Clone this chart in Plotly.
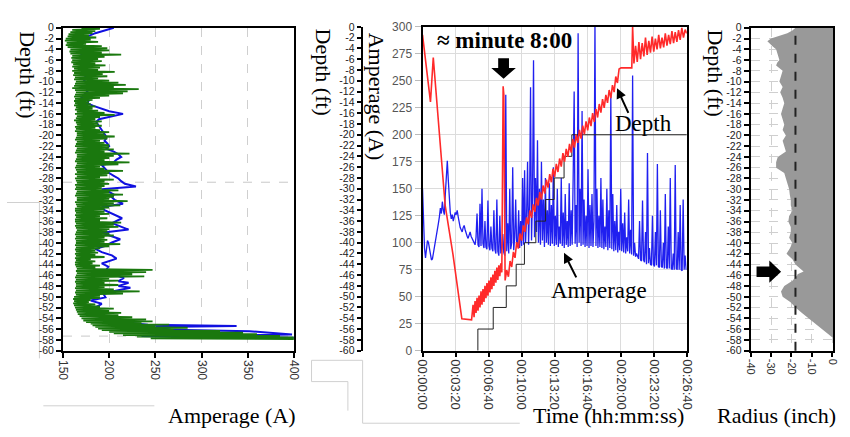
import plotly.graph_objects as go

W, H = 850, 437

# ---------------- Panel 1 : amperage log along depth ----------------
green_step_ft = 0.2
green_amp = [170, 190, 160, 185, 158, 182, 156, 178, 155, 186,
             153, 180, 152, 188, 154, 175, 153, 192, 155, 198,
             158, 200, 157, 192, 158, 213, 160, 195, 159, 188,
             160, 192, 159, 185, 161, 196, 160, 190, 162, 188,
             160, 206, 162, 193, 161, 198, 163, 188, 162, 200,
             164, 210, 163, 218, 162, 205, 160, 232, 163, 220,
             164, 215, 163, 200, 162, 190, 163, 182, 162, 178,
             163, 180, 162, 185, 164, 182, 163, 188, 165, 195,
             163, 206, 165, 190, 164, 185, 162, 192, 164, 188,
             165, 192, 163, 185, 164, 190, 163, 200, 165, 195,
             165, 206, 164, 198, 163, 190, 165, 195, 164, 200,
             163, 200, 165, 205, 164, 195, 163, 222, 165, 205,
             165, 200, 164, 195, 163, 222, 165, 210, 164, 190,
             163, 195, 164, 215, 165, 200, 163, 198, 165, 190,
             163, 205, 164, 195, 165, 200, 163, 195, 164, 192,
             163, 210, 165, 200, 164, 215, 163, 205, 165, 200,
             165, 220, 163, 205, 164, 212, 165, 200, 163, 195,
             163, 195, 164, 200, 163, 190, 164, 198, 163, 190,
             163, 213, 164, 205, 163, 210, 164, 200, 165, 198,
             164, 200, 163, 205, 164, 195, 163, 198, 164, 195,
             164, 212, 163, 200, 164, 190, 163, 185, 164, 188,
             163, 185, 164, 195, 163, 180, 164, 185, 163, 182,
             163, 190, 164, 185, 165, 247, 164, 240, 165, 225,
             164, 238, 163, 200, 164, 210, 163, 195, 164, 210,
             164, 195, 163, 205, 164, 233, 163, 215, 164, 190,
             162, 190, 161, 180, 162, 178, 161, 185, 162, 190,
             163, 205, 164, 200, 165, 213, 166, 210, 168, 225,
             170, 240]
green_tail_depth = [-54.4, -54.55, -54.7, -54.85, -55.0, -55.15, -55.3, -55.45, -55.6, -55.75,
                    -55.9, -56.05, -56.2, -56.35, -56.5, -56.65, -56.8, -56.95, -57.1, -57.25,
                    -57.4, -57.55, -57.7, -57.85, -58.0]
green_tail_amp = [172, 247, 175, 235, 180, 265, 182, 250, 185, 285,
                  188, 270, 192, 320, 200, 345, 205, 360, 215, 385,
                  230, 400, 245, 400, 400]

blue_log_depth = [0, -0.5, -1, -1.5, -2, -2.5, -3, -3.5, -4, -4.5, -5, -5.5, -6, -6.5, -7,
                  -7.5, -8, -8.5, -9, -9.5, -10, -10.5, -11, -11.5, -12, -12.5, -13, -13.5,
                  -14, -14.5, -15, -15.5, -16, -16.5, -17, -17.5, -18, -18.5, -19, -19.5, -20,
                  -20.5, -21, -21.5, -22, -22.5, -23, -23.5, -24, -24.5, -25, -25.5, -26, -26.5,
                  -27, -27.5, -28, -28.5, -29, -29.5, -30, -30.5, -31, -31.5, -32,
                  -32.7, -33.3, -33.9, -34.8, -35.4, -36.3, -36.9, -37.5, -38.1, -38.7,
                  -39.3, -39.9, -40.5, -41.1, -41.7, -42.3, -42.9, -43.8, -44.4, -45.3,
                  -45.9, -46.5, -47.1, -47.4, -48.0, -48.3, -48.9, -49.5, -50.1, -50.7,
                  -51.3, -52.2, -53.1, -54.0, -54.6, -55.2, -55.4, -55.6, -56.1, -56.4,
                  -56.7, -57.0, -57.3, -57.6]
blue_log_amp = [205, 195, 185, 178, 172, 170, 168, 172, 175, 172, 170, 174, 176, 172, 170,
                173, 176, 178, 175, 172, 174, 177, 180, 178, 175, 172, 170, 178,
                176, 183, 192, 200, 215, 200, 189, 186, 188, 190, 192, 194, 196,
                197, 195, 198, 200, 197, 205, 210, 213, 208, 205, 192, 195, 198,
                200, 205, 210, 213, 217, 229, 192, 200, 205, 203, 206,
                215, 192, 195, 207, 214, 203, 213, 221, 192, 203,
                212, 203, 196, 185, 192, 203, 208, 192, 199, 196,
                206, 216, 210, 221, 210, 223, 206, 194, 196, 180,
                192, 183, 178, 196, 207, 242, 338, 250, 267, 352,
                373, 398, 235, 400]

log_cursor_depths = [-28.7, -57.3]
amp_ticks = [150, 200, 250, 300, 350, 400]

# ---------------- Panel 2 : time series ----------------
sample_period_s = 6
amp_series = [150, 118, 95, 86, 92, 102, 100, 94, 88, 84,
              85, 90, 98, 103, 106, 110, 118, 124, 132, 127,
              138, 130, 126, 145, 168, 176, 158, 140, 128, 122,
              126, 120, 124, 128, 126, 130, 124, 118, 114, 112,
              110, 114, 116, 112, 108, 106, 104, 108, 110, 106,
              104, 102, 100, 98,
              105, 127, 98, 96, 136, 97, 150, 99, 95, 120,
              96, 94, 139, 97, 93, 115, 95, 92, 130, 94,
              90, 140, 92, 88, 125, 90, 95, 108, 91, 88,
              237, 92, 118, 90, 150, 94, 100, 170, 93, 105,
              140, 96, 98, 130, 95, 120, 97, 160, 98, 167,
              100, 125, 175, 98, 135, 244, 102, 145, 269, 105,
              160, 110, 195, 100, 150, 98, 175, 102, 140, 96,
              160, 100, 130, 98, 155, 97, 135, 99, 170, 97,
              125, 98, 150, 96, 115, 99, 160, 97, 128, 95,
              145, 98, 120, 96, 155, 97, 130, 98, 160, 240,
              99, 135, 96, 294, 100, 150, 97, 222, 98, 140,
              96, 125, 97, 168, 95, 135, 97, 145, 96, 120,
              305, 97, 150, 95, 125, 96, 160, 95, 140, 94,
              115, 96, 150, 93, 130, 95, 237, 94, 145, 92,
              120, 93, 135, 91, 110, 93, 150, 92, 118, 91,
              128, 90, 105, 92, 140, 90, 112, 89, 255, 88,
              100, 87, 90, 86, 85, 120, 84, 83, 139, 84,
              82, 110, 80, 183, 81, 95, 80, 79, 125, 80,
              78, 110, 79, 173, 78, 77, 130, 78, 77, 100,
              76, 145, 77, 76, 115, 76, 160, 76, 75, 90,
              75, 172, 76, 75, 110, 75, 135, 75, 74, 140,
              75, 88, 75]

depth_t = ([0, 48, 65, 137, 184, 238, 297]
           + list(range(306, 481, 6))
           + [488, 492, 500]
           + list(range(510, 1191, 10))
           + [1202, 1267, 1272]
           + list(range(1280, 1601, 10)))
depth_ft = ([-1.5, -13.9, -5.7, -33.1, -42.1, -54.1, -54.3]
            + [-51.5, -53.8, -50.8, -53.0, -50.2, -52.6, -49.8, -52.0, -49.0, -51.5,
               -48.6, -51.0, -48.0, -50.3, -47.5, -49.8, -47.0, -49.2, -46.4, -48.6,
               -45.9, -48.0, -45.2, -47.4, -44.6, -46.9, -44.2, -46.2, -43.8, -45.5]
            + [-11.0, -12.5, -47.0]
            + [-45.1, -46.3, -43.4, -44.5, -41.7, -42.8, -39.9, -41.1, -38.3, -39.6,
               -36.8, -38.0, -35.3, -36.6, -34.0, -35.4, -32.9, -34.3, -31.7, -33.1,
               -30.6, -32.0, -29.4, -30.9, -28.3, -29.8, -27.3, -28.8, -26.3, -27.8,
               -25.4, -26.9, -24.4, -25.9, -23.4, -25.0, -22.6, -24.1, -21.7, -23.3,
               -20.8, -22.4, -20.0, -21.5, -19.1, -20.7, -18.3, -19.9, -17.5, -19.2,
               -16.8, -18.4, -16.0, -17.6, -15.2, -16.8, -14.3, -15.9, -13.4, -15.0,
               -12.6, -14.1, -11.7, -13.2, -10.8, -12.1, -9.2, -10.4, -7.8]
            + [-7.6, -7.6, 0.0]
            + [-6.8, -3.5, -6.5, -2.8, -6.0, -3.0, -5.5, -2.0, -5.2, -2.6,
               -4.8, -1.8, -4.6, -2.2, -4.2, -1.5, -4.0, -2.0, -3.8, -1.2,
               -3.5, -1.5, -3.2, -0.8, -3.0, -1.0, -2.8, -0.6, -2.4, -0.2,
               -2.0, -0.5, -1.2])

step_t = [335, 428, 507, 567, 617, 686, 745, 797, 857, 904]
step_amp = [20, 40, 60, 80, 100, 120, 140, 160, 180, 200]

time_ticks = [0, 200, 400, 600, 800, 1000, 1200, 1400, 1600]
time_labels = ["00:00:00", "00:03:20", "00:06:40", "00:10:00", "00:13:20",
               "00:16:40", "00:20:00", "00:23:20", "00:26:40"]

# ---------------- Panel 3 : radius profile ----------------
profile_depth = [0, -0.5, -1, -1.5, -2, -2.5, -3, -3.5, -4, -5, -6, -6.5, -7, -8, -9, -10,
                 -11, -12, -13, -14, -15, -16, -17, -18, -19, -20, -21, -22, -23, -24,
                 -25, -26, -27, -28, -29, -30, -31, -32, -33, -34, -35, -36, -37, -38,
                 -39, -40, -41, -42, -43, -44, -44.8, -45.3, -45.8, -46, -47, -48, -49,
                 -50, -51, -52, -53, -54, -55, -56, -57, -57.5]
profile_radius = [-18, -19.5, -22, -26, -30, -31.8, -30.6, -29, -27.5, -26.7, -25.9, -27,
                  -27.5, -24.3, -25.1, -25.9, -24.3, -25.5, -24.3, -23.5, -24.3, -25.1,
                  -24.3, -23.5, -24.3, -22.7, -24.3, -23.5, -22.7, -26.7, -27.5, -27.5,
                  -23.5, -22.7, -21.9, -21.1, -20.8, -20.3, -20.3, -19.5, -21.1, -21.5,
                  -20.3, -20.3, -21.1, -19.5, -20.8, -22.4, -19.5, -18.0, -15.6, -14.0,
                  -17.0, -17.1, -19.5, -23.5, -25.1, -24.3, -20.4, -18.0, -14.8, -11.6,
                  -8.4, -5.2, -2.0, 0]
radius_ref = -18
radius_max = 0.5
radius_ticks = [-40, -30, -20, -10, 0]

depth_ticks = list(range(0, -61, -2))
depth_labels = [str(v) for v in depth_ticks]


def px(x):
    return x / W


def py(y):
    return 1 - y / H


def path(points, close=True):
    s = "M " + " L ".join(f"{px(x):.5f},{py(y):.5f}" for x, y in points)
    return s + (" Z" if close else "")


fig = go.Figure()

# panel 1
green_depth = [round(-green_step_ft * i, 2) for i in range(len(green_amp))] + green_tail_depth
fig.add_trace(go.Scatter(x=blue_log_amp, y=blue_log_depth, mode="lines",
                         line=dict(color="#1010e0", width=2), xaxis="x", yaxis="y"))
fig.add_trace(go.Scatter(x=green_amp + green_tail_amp, y=green_depth, mode="lines",
                         line=dict(color="#1a780e", width=1.8), xaxis="x", yaxis="y"))
for d in log_cursor_depths:
    fig.add_shape(type="line", xref="x domain", yref="y", x0=0, x1=1, y0=d, y1=d,
                  line=dict(color="#c8c8c8", width=1, dash="dash"), layer="below")

# panel 2
amp_t = [i * sample_period_s for i in range(len(amp_series))]
fig.add_trace(go.Scatter(x=amp_t, y=amp_series, mode="lines",
                         line=dict(color="#2020f0", width=1.3), xaxis="x2", yaxis="y2"))
fig.add_trace(go.Scatter(x=[step_t[0]] + step_t + [time_ticks[-1]],
                         y=[0] + step_amp + [step_amp[-1]], mode="lines",
                         line=dict(color="#222", width=1, shape="hv"), xaxis="x2", yaxis="y2"))
fig.add_trace(go.Scatter(x=depth_t, y=depth_ft, mode="lines",
                         line=dict(color="#ff2a2a", width=1.6), xaxis="x2", yaxis="y3"))

# panel 3
fig.add_trace(go.Scatter(x=profile_radius + [radius_max, radius_max],
                         y=profile_depth + [profile_depth[-1], 0], mode="lines",
                         fill="toself", fillcolor="#999999", line=dict(width=0),
                         xaxis="x3", yaxis="y4"))
fig.add_shape(type="line", xref="x3", yref="y4 domain", x0=radius_ref, x1=radius_ref,
              y0=0, y1=1, line=dict(color="#222", width=2, dash="dash"))

tick_font = dict(family="Arial", size=12, color="#333")
depth_font = dict(family="Arial", size=10.5, color="#222")
frame = dict(showline=True, linewidth=2, linecolor="black", mirror=True, zeroline=False)
yd = [1 - 355 / H, 1 - 21.5 / H]

fig.update_layout(
    width=W, height=H, margin=dict(l=0, r=0, t=0, b=0),
    paper_bgcolor="white", plot_bgcolor="white", showlegend=False,
    xaxis=dict(domain=[57 / W, 292 / W], anchor="y", range=[150, 400], tickvals=amp_ticks,
               tickangle=90, ticks="outside", ticklen=5, tickwidth=2, tickcolor="black",
               showgrid=True, gridcolor="#cfcfcf", griddash="dash", tickfont=tick_font, **frame),
    yaxis=dict(domain=yd, anchor="x", range=[-60, 0], tickvals=depth_ticks, ticktext=depth_labels,
               ticks="outside", ticklen=5, tickwidth=2, tickcolor="black", showgrid=False,
               tickfont=depth_font, **frame),
    xaxis2=dict(domain=[423 / W, 692 / W], anchor="y2", range=[0, 1600], tickvals=time_ticks,
                ticktext=time_labels, tickangle=90, ticks="outside", ticklen=4, tickwidth=2,
                tickcolor="black", showgrid=True, gridcolor="#dcdcdc",
                tickfont=dict(family="Arial", size=13, color="#333"), **frame),
    yaxis2=dict(domain=[1 - 355 / H, 1 - 20.5 / H], anchor="x2", range=[0, 300], dtick=25,
                ticks="outside", ticklen=6, tickcolor="#bbb", showgrid=True, gridcolor="#dcdcdc",
                tickfont=dict(family="Arial", size=12, color="#555"), **frame),
    yaxis3=dict(overlaying="y2", anchor="free", position=361 / W, side="left", range=[-60, 0],
                tickvals=depth_ticks, ticktext=depth_labels, ticks="outside", ticklen=4,
                tickwidth=2, tickcolor="black", showgrid=False, showline=True, linewidth=2,
                linecolor="black", zeroline=False, tickfont=depth_font),
    xaxis3=dict(domain=[757 / W, 841 / W], anchor="y4", range=[-40, radius_max],
                tickvals=radius_ticks, ticktext=[str(v) for v in radius_ticks], tickangle=90,
                ticks="outside", ticklen=4, tickwidth=2, tickcolor="black", showgrid=True,
                gridcolor="#cfcfcf", griddash="dash", tickfont=dict(family="Arial", size=11, color="#333"),
                **frame),
    yaxis4=dict(domain=yd, anchor="x3", range=[-60, 0], tickvals=depth_ticks, ticktext=depth_labels,
                ticks="outside", ticklen=5, tickwidth=2, tickcolor="black", showgrid=True,
                gridcolor="#cfcfcf", griddash="dash", tickfont=depth_font, **frame),
)

serif = "Liberation Serif, Times New Roman, serif"
bottom_titles = [("Amperage (A)", 229), ("Time (hh:mm:ss)", 612), ("Radius (inch)", 783)]
for text, x in bottom_titles:
    fig.add_annotation(text=text, x=px(x), y=0, xref="paper", yref="paper", showarrow=False,
                       xanchor="center", yanchor="bottom",
                       font=dict(family=serif, size=22, color="black"))

side_titles = [("Depth (ft)", 21, 70), ("Depth (ft)", 322, 67), ("Amperage (A)", 377, 93),
               ("Depth (ft)", 721, 68)]
for text, x, y in side_titles:
    fig.add_annotation(text=text, x=px(x), y=py(y), xref="paper", yref="paper", showarrow=False,
                       textangle=90, xanchor="center", yanchor="middle",
                       font=dict(family=serif, size=22, color="black"))

labels = [("Depth", 648, 120), ("Amperage", 603, 293), ("<b>\u2248 minute 8:00</b>", 506, 35)]
for text, x, y in labels:
    fig.add_annotation(text=text, x=px(x), y=py(y), xref="paper", yref="paper", showarrow=False,
                       xanchor="center", yanchor="middle",
                       font=dict(family=serif, size=23, color="black"))

# pointer arrows
for hx, hy, ax, ay in [(621, 84, 12, 26), (567, 254, 13, 26)]:
    fig.add_annotation(text="", x=px(hx), y=py(hy), xref="paper", yref="paper", showarrow=True,
                       ax=ax, ay=ay, arrowhead=2, arrowsize=1, arrowwidth=2, arrowcolor="black")

# block arrows
fig.add_shape(type="path", xref="paper", yref="paper", fillcolor="black", line=dict(width=0),
              path=path([(500, 53), (511, 53), (511, 63), (518, 63), (505.5, 74), (493, 63), (500, 63)]))
fig.add_shape(type="path", xref="paper", yref="paper", fillcolor="black", line=dict(width=0),
              path=path([(763, 268), (776, 268), (776, 262), (788, 273.5), (776, 285), (776, 279), (763, 279)]))

# faint scan border lines
for seg in [[(0, 202), (33, 202), (33, 363)], [(37, 412), (150, 412)],
            [(362, 365), (310, 365), (310, 387), (347, 387), (347, 417)],
            [(362, 365), (362, 430), (522, 430)]]:
    fig.add_shape(type="path", xref="paper", yref="paper", path=path(seg, close=False),
                  line=dict(color="#d0d0d0", width=1), layer="below")

# page body margin would shift the 850x437 figure inside the window
fig.write_html("out.html", config={"displayModeBar": False},
               post_script="document.body.style.margin='0px';"
                           "document.documentElement.style.overflow='hidden';")
